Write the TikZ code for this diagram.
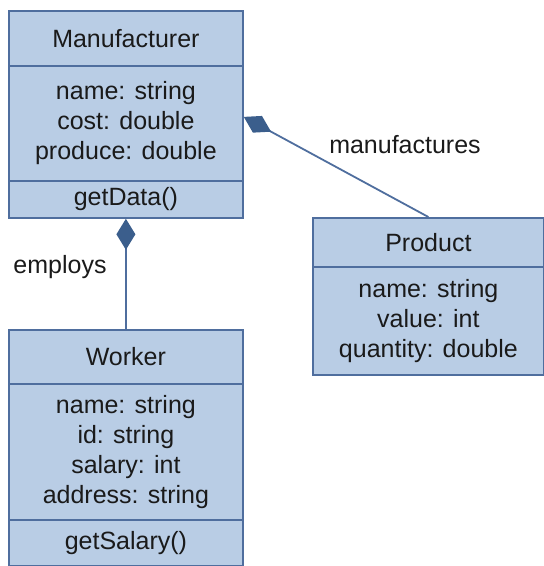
\documentclass[tikz,border=0pt]{standalone}
\usepackage{fontspec}
\setmainfont{Liberation Sans}
\usetikzlibrary{arrows.meta}
\definecolor{classfill}{HTML}{B9CDE5}
\definecolor{classline}{HTML}{4F6E9E}
\definecolor{diamondfill}{HTML}{3B5E8C}
\definecolor{inktext}{HTML}{1A1A1A}
\tikzset{
  part/.style={draw=classline, fill=classfill, line width=1.8pt, rectangle,
    anchor=north west, inner sep=0pt, align=center, text=inktext,
    font=\fontsize{25pt}{30pt}\selectfont},
  assoc/.style={draw=classline, line width=1.8pt},
  comp/.tip={Diamond[length=31pt, width=19pt, fill=diamondfill, color=diamondfill]},
  role/.style={text=inktext, font=\fontsize{25pt}{30pt}\selectfont, inner sep=0pt}
}
\begin{document}
\begin{tikzpicture}[x=1pt, y=-1pt]
  \useasboundingbox (0,0) rectangle (544,566);

  % Manufacturer class
  \node[part, minimum width=234pt, minimum height=55pt]  (mT) at (8,10)  {Manufacturer};
  \node[part, minimum width=234pt, minimum height=115pt] (mA) at (8,65)  {name: string\\cost: double\\produce: double};
  \node[part, minimum width=234pt, minimum height=37pt]  (mO) at (8,180) {getData()};

  % Worker class
  \node[part, minimum width=234pt, minimum height=54pt]  (wT) at (8,329) {Worker};
  \node[part, minimum width=234pt, minimum height=136pt] (wA) at (8,383) {name: string\\id: string\\salary: int\\address: string};
  \node[part, minimum width=234pt, minimum height=46pt]  (wO) at (8,519) {getSalary()};

  % Product class
  \node[part, minimum width=231pt, minimum height=49pt]  (pT) at (312,217) {Product};
  \node[part, minimum width=231pt, minimum height=108pt] (pA) at (312,266) {name: string\\value: int\\quantity: double};

  % Compositions
  \draw[assoc, {comp}-] (mO.south) -- (wT.north);
  \coordinate (mPort) at ([yshift=6.5pt]mA.east);
  \draw[assoc, {comp}-] (mPort) -- (pT.north);

  % Role names
  \node[role] (lblEmploys) at (60,267) {employs};
  \node[role] (lblMakes) at (405,145) {manufactures};
\end{tikzpicture}
\end{document}
